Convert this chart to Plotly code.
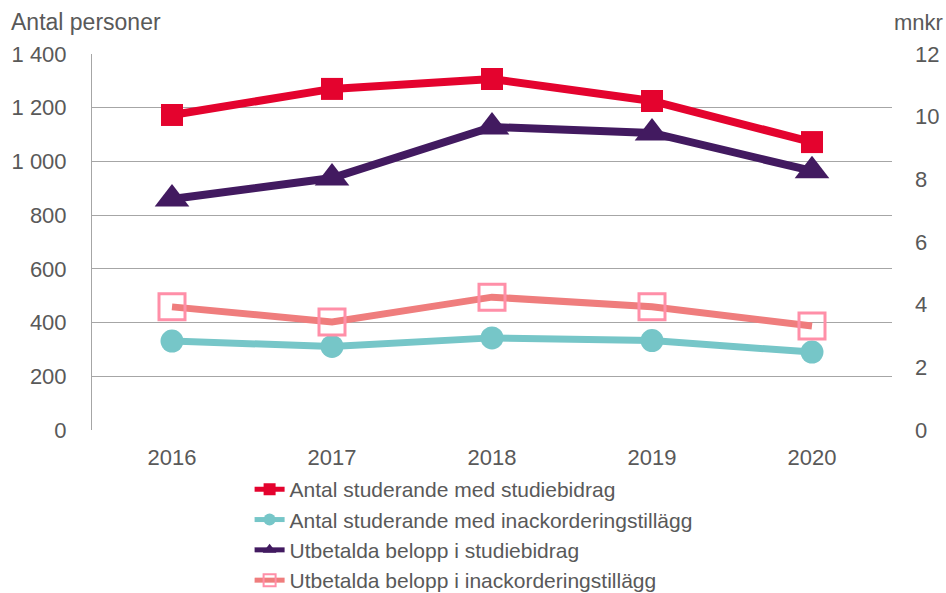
import plotly.graph_objects as go

years = ["2016", "2017", "2018", "2019", "2020"]

antal_studiebidrag = [1173, 1270, 1307, 1225, 1072]
antal_inackordering = [331, 311, 343, 333, 290]
belopp_studiebidrag = [7.37, 8.04, 9.67, 9.48, 8.27]
belopp_inackordering = [3.93, 3.45, 4.24, 3.93, 3.32]

names = ["Antal studerande med studiebidrag",
         "Antal studerande med inackorderingstillägg",
         "Utbetalda belopp i studiebidrag",
         "Utbetalda belopp i inackorderingstillägg"]

grey = "#595959"
font = "Liberation Sans, Arial, sans-serif"

fig = go.Figure()

fig.add_trace(go.Scatter(
    x=years, y=antal_studiebidrag, name=names[0], mode="lines+markers",
    line=dict(color="#e4032e", width=8),
    marker=dict(symbol="square", size=22, color="#e4032e")))

fig.add_trace(go.Scatter(
    x=years, y=antal_inackordering, name=names[1], mode="lines+markers",
    line=dict(color="#76c6c8", width=7),
    marker=dict(symbol="circle", size=23, color="#76c6c8")))

fig.add_trace(go.Scatter(
    x=years, y=belopp_studiebidrag, name=names[2], mode="lines+markers", yaxis="y2",
    line=dict(color="#421a60", width=8),
    marker=dict(symbol="triangle-up", size=30, color="#421a60")))

fig.add_trace(go.Scatter(
    x=years, y=belopp_inackordering, name=names[3], mode="lines+markers", yaxis="y2",
    line=dict(color="#ef7d7d", width=7),
    marker=dict(symbol="square-open", size=26, color="#ff8fa8", line=dict(width=3))))

fig.update_layout(
    width=946, height=593,
    margin=dict(l=92, r=54, t=54, b=163, autoexpand=False),
    paper_bgcolor="white", plot_bgcolor="white",
    font=dict(family=font, size=22, color=grey),
    separators=", ",
    xaxis=dict(range=[-0.5, 4.5], showgrid=False, showline=False, ticks="",
               ticklabelstandoff=12, automargin=False),
    yaxis=dict(range=[0, 1400], dtick=200, separatethousands=True,
               showgrid=True, gridcolor="#a6a6a6", gridwidth=1,
               showline=True, linecolor="#a6a6a6", linewidth=1,
               zeroline=False, ticks="", ticklabelstandoff=20, automargin=False),
    yaxis2=dict(range=[0, 12], dtick=2, overlaying="y", side="right",
                showgrid=False, showline=False, zeroline=False,
                ticks="", ticklabelstandoff=22, automargin=False),
    legend=dict(x=0.197, y=-0.104, xanchor="left", yanchor="top",
                font=dict(size=21, color=grey), tracegroupgap=0,
                itemsizing="constant", bgcolor="rgba(0,0,0,0)"),
    showlegend=True,
    annotations=[
        dict(text="Antal personer", xref="paper", yref="paper", x=-0.104, y=1.085,
             xanchor="left", yanchor="middle", showarrow=False,
             font=dict(size=23, color=grey)),
        dict(text="mnkr", xref="paper", yref="paper", x=1.066, y=1.085,
             xanchor="right", yanchor="middle", showarrow=False,
             font=dict(size=22, color=grey)),
    ],
)

fig.write_html("out.html", config={"displayModeBar": False},
               post_script="document.body.style.margin='0';")
